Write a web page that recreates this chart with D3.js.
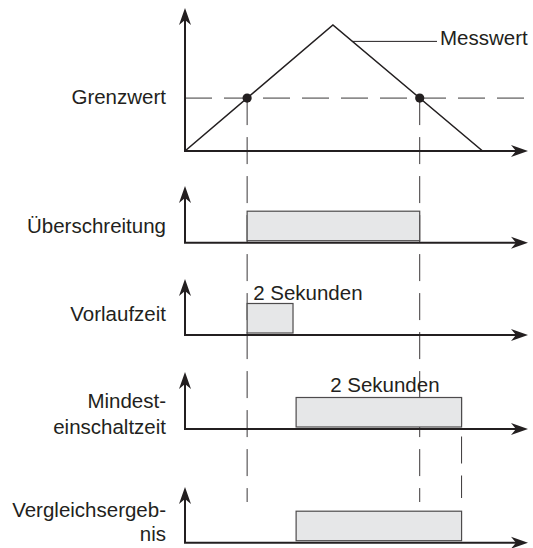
<!DOCTYPE html>
<html>
<head>
<meta charset="utf-8">
<script src="https://cdn.jsdelivr.net/npm/d3@7"></script>
<style>
  body { margin: 0; background: #fff; }
  text { font-family: "Liberation Sans", Arial, Helvetica, sans-serif; font-size: 20.5px; fill: #231f20; }
</style>
</head>
<body>
<svg id="chart" width="533" height="548"></svg>
<script>
// measured value (time, value) - triangle
const messTime = [0, 43, 86.5];
const messValue = [0, 100, 0];
const grenzwert = 42;
const messLabelValue = 87;

const topLabels = ["Grenzwert", "Messwert"];

// signal rows
const rowNames = [["Überschreitung"], ["Vorlaufzeit"], ["Mindest-", "einschaltzeit"], ["Vergleichsergeb-", "nis"]];
const vorlaufEnd = 31.4;
const mindestStart = 32.3;
const mindestEnd = 80.4;
const noteText = "2 Sekunden";

// layout
const ink = "#231f20";
const row = [
	{ base: 242.7, top: 186, lab: [233] },
	{ base: 335, top: 279, lab: [321] },
	{ base: 429, top: 372, lab: [408, 434] },
	{ base: 542.7, top: 487, lab: [517, 541] },
];
const barH = 29.5, barGap = 2;

const svg = d3.select( "#chart" );

let x = d3.scaleLinear().domain( [ 0, 100 ] ).range( [ 185, 529 ] );
let y = d3.scaleLinear().domain( [ 0, 100 ] ).range( [ 151, 25 ] );

let mess = messTime.map( ( t, i ) => ({ t: t, v: messValue[ i ] }) );

// times where the measured value crosses the limit
let crossings = [];
for ( let i = 1; i < mess.length; i++ ) {
	let a = mess[ i - 1 ], b = mess[ i ];
	if ( ( a.v - grenzwert ) * ( b.v - grenzwert ) < 0 )
		crossings.push( a.t + ( grenzwert - a.v ) / ( b.v - a.v ) * ( b.t - a.t ) );
}
const t1 = crossings[ 0 ], t2 = crossings[ 1 ];

function arrows( g, x0, yBase, yTop, xEnd ) {
	g.append( "line" )
		.attr( "x1", x0 ).attr( "y1", yBase ).attr( "x2", x0 ).attr( "y2", yTop + 10 )
		.attr( "stroke", ink ).attr( "stroke-width", 2 );
	g.append( "line" )
		.attr( "x1", x0 - 1 ).attr( "y1", yBase ).attr( "x2", xEnd - 10 ).attr( "y2", yBase )
		.attr( "stroke", ink ).attr( "stroke-width", 2 );
	g.append( "path" )
		.attr( "d", "M0,0L-17,-6L-12,0L-17,6Z" )
		.attr( "fill", ink )
		.attr( "transform", "translate(" + x0 + "," + yTop + ") rotate(-90)" );
	g.append( "path" )
		.attr( "d", "M0,0L-17,-6L-12,0L-17,6Z" )
		.attr( "fill", ink )
		.attr( "transform", "translate(" + xEnd + "," + yBase + ")" );
}

// dashed guide lines (behind everything)
let guides = svg.append( "g" )
	.attr( "stroke", "#3a3738" )
	.attr( "stroke-width", 1 )
	.attr( "stroke-dasharray", "27,12" );

guides.append( "line" )
	.attr( "x1", x( 0 ) ).attr( "x2", x( 100 ) )
	.attr( "y1", y( grenzwert ) ).attr( "y2", y( grenzwert ) );

[ t1, t2 ].forEach( t => {
	guides.append( "line" )
		.attr( "x1", x( t ) ).attr( "x2", x( t ) )
		.attr( "y1", y( grenzwert ) ).attr( "y2", 502 );
});

guides.append( "line" )
	.attr( "x1", x( mindestEnd ) ).attr( "x2", x( mindestEnd ) )
	.attr( "y1", row[ 2 ].base - barGap - barH ).attr( "y2", 498 );

// top panel
let topPanel = svg.append( "g" );
arrows( topPanel, x( 0 ), y( 0 ), 8, 528 );

let line = d3.line()
	.x( d => x( d.t ) )
	.y( d => y( d.v ) );

topPanel.append( "path" )
	.datum( mess )
	.attr( "fill", "none" )
	.attr( "stroke", ink )
	.attr( "stroke-width", 1.6 )
	.attr( "d", line );

topPanel.selectAll( "circle" )
	.data( crossings )
	.enter().append( "circle" )
		.attr( "cx", d => x( d ) )
		.attr( "cy", y( grenzwert ) )
		.attr( "r", 4.6 )
		.attr( "fill", ink );

// leader for the label
let pk = mess[ 1 ], en = mess[ 2 ];
let tLead = pk.t + ( messLabelValue - pk.v ) / ( en.v - pk.v ) * ( en.t - pk.t );
topPanel.append( "line" )
	.attr( "x1", x( tLead ) ).attr( "y1", y( messLabelValue ) )
	.attr( "x2", 437 ).attr( "y2", y( messLabelValue ) )
	.attr( "stroke", ink ).attr( "stroke-width", 1 );

topPanel.append( "text" )
	.attr( "x", 440 ).attr( "y", 45 )
	.text( topLabels[ 1 ] );

topPanel.append( "text" )
	.attr( "x", 166 ).attr( "y", 104 )
	.attr( "text-anchor", "end" )
	.text( topLabels[ 0 ] );

// signal rows
const bars = [
	[ t1, t2 ],
	[ t1, vorlaufEnd ],
	[ mindestStart, mindestEnd ],
	[ mindestStart, mindestEnd ],
];

rowNames.forEach( ( names, i ) => {
	let r = row[ i ];
	let g = svg.append( "g" );

	g.append( "rect" )
		.attr( "x", x( bars[ i ][ 0 ] ) )
		.attr( "y", r.base - barGap - barH )
		.attr( "width", x( bars[ i ][ 1 ] ) - x( bars[ i ][ 0 ] ) )
		.attr( "height", barH )
		.attr( "fill", "#e6e7e8" )
		.attr( "stroke", "#4d4b4c" )
		.attr( "stroke-width", 1.2 );

	arrows( g, x( 0 ), r.base, r.top, 528 );

	names.forEach( ( n, j ) => {
		g.append( "text" )
			.attr( "x", 166 )
			.attr( "y", r.lab[ j ] )
			.attr( "text-anchor", "end" )
			.text( n );
	});
});

// duration notes
svg.append( "text" )
	.attr( "x", x( t1 ) + 6 )
	.attr( "y", row[ 1 ].base - barGap - barH - 4 )
	.text( noteText );

svg.append( "text" )
	.attr( "x", ( x( mindestStart ) + x( mindestEnd ) ) / 2 + 6 )
	.attr( "y", row[ 2 ].base - barGap - barH - 6 )
	.attr( "text-anchor", "middle" )
	.text( noteText );
</script>
</body>
</html>
